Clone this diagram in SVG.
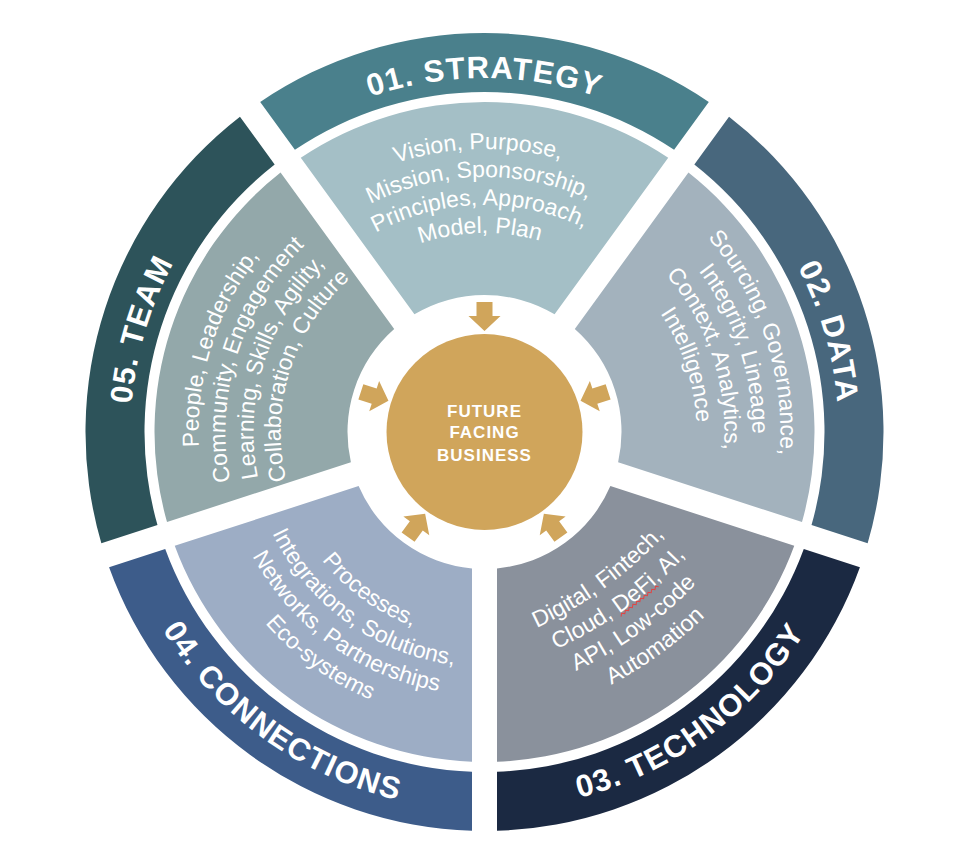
<svg xmlns="http://www.w3.org/2000/svg" xmlns:xlink="http://www.w3.org/1999/xlink" width="960" height="842" viewBox="0 0 960 842">
<style>
.lbl{font-family:"Liberation Sans",Arial,sans-serif;font-weight:bold;font-size:31px;fill:#fff;letter-spacing:1.2px}
.seg{font-family:"Liberation Sans",Arial,sans-serif;font-size:23px;fill:#fff}
.hub{font-family:"Liberation Sans",Arial,sans-serif;font-weight:bold;font-size:17px;fill:#fff;letter-spacing:1px}
.arrow{fill:#d0a55b}
</style>
<defs>
<path id="band" d="M -224.30,-329.99 A 399 399 0 0 1 224.30,-329.99 L 189.60,-282.23 A 340 340 0 0 0 -189.60,-282.23 Z"/>
<path id="inner" d="M -183.72,-274.13 A 330 330 0 0 1 183.72,-274.13 L 70.08,-117.72 A 137 137 0 0 0 -70.08,-117.72 Z"/>
<path id="arrowShape" d="M -8,-130 L 8,-130 L 8,-116 L 16,-116 L 0,-101 L -16,-116 L -8,-116 Z"/>
<path id="cw354" d="M -348.62,-61.47 A 354 354 0 0 1 348.62,-61.47"/>
<path id="ccw378" d="M -372.26,65.64 A 378 378 0 0 0 372.26,65.64"/>
<path id="cw283" d="M -278.70,-49.14 A 283 283 0 0 1 278.70,-49.14"/>
<path id="cw255" d="M -251.13,-44.28 A 255 255 0 0 1 251.13,-44.28"/>
<path id="cw227" d="M -223.55,-39.42 A 227 227 0 0 1 223.55,-39.42"/>
<path id="cw199" d="M -195.98,-34.56 A 199 199 0 0 1 195.98,-34.56"/>
<path id="cw296" d="M -291.50,-51.40 A 296 296 0 0 1 291.50,-51.40"/>
<path id="cw268" d="M -263.93,-46.54 A 268 268 0 0 1 263.93,-46.54"/>
<path id="cw240" d="M -236.35,-41.68 A 240 240 0 0 1 236.35,-41.68"/>
<path id="cw212" d="M -208.78,-36.81 A 212 212 0 0 1 208.78,-36.81"/>
<path id="cw286" d="M -281.66,-49.66 A 286 286 0 0 1 281.66,-49.66"/>
<path id="cw259" d="M -255.07,-44.98 A 259 259 0 0 1 255.07,-44.98"/>
<path id="cw231" d="M -227.49,-40.11 A 231 231 0 0 1 227.49,-40.11"/>
<path id="cw204" d="M -200.90,-35.42 A 204 204 0 0 1 200.90,-35.42"/>
<path id="ccw207" d="M -203.86,35.95 A 207 207 0 0 0 203.86,35.95"/>
<path id="ccw235" d="M -231.43,40.81 A 235 235 0 0 0 231.43,40.81"/>
<path id="ccw263" d="M -259.01,45.67 A 263 263 0 0 0 259.01,45.67"/>
<path id="ccw291" d="M -286.58,50.53 A 291 291 0 0 0 286.58,50.53"/>
<path id="t1" d="M -144,167.81 A 400 400 0 0 0 156,167.81"/>
<path id="t2" d="M -140,196.81 A 400 400 0 0 0 160,196.81"/>
<path id="t3" d="M -142,224.81 A 400 400 0 0 0 158,224.81"/>
<path id="t4" d="M -138,253.81 A 400 400 0 0 0 162,253.81"/>
</defs>
<rect width="960" height="842" fill="#fff"/>
<g transform="translate(484.5,432)">
  <g id="strategy">
    <use href="#band" fill="#4a808c"/>
    <use href="#inner" fill="#a4bfc6"/>
    <text class="lbl" text-anchor="middle"><textPath href="#cw354" startOffset="50%">01. STRATEGY</textPath></text>
    <g transform="rotate(-1.3)">
      <text class="seg" text-anchor="middle"><textPath href="#cw283" startOffset="50%">Vision, Purpose,</textPath></text>
      <text class="seg" text-anchor="middle"><textPath href="#cw255" startOffset="50%">Mission, Sponsorship,</textPath></text>
      <text class="seg" text-anchor="middle"><textPath href="#cw227" startOffset="50%">Principles, Approach,</textPath></text>
      <text class="seg" text-anchor="middle"><textPath href="#cw199" startOffset="50%">Model, Plan</textPath></text>
    </g>
  </g>
  <g id="data">
    <use href="#band" transform="rotate(72)" fill="#48677d"/>
    <use href="#inner" transform="rotate(72)" fill="#a3b2bd"/>
    <text class="lbl" text-anchor="middle" transform="rotate(73.8)"><textPath href="#cw354" startOffset="50%">02. DATA</textPath></text>
    <g transform="rotate(71.7)">
      <text class="seg" text-anchor="middle"><textPath href="#cw296" startOffset="50%">Sourcing, Governance,</textPath></text>
      <text class="seg" text-anchor="middle"><textPath href="#cw268" startOffset="50%">Integrity, Lineage</textPath></text>
      <text class="seg" text-anchor="middle"><textPath href="#cw240" startOffset="50%">Context, Analytics,</textPath></text>
      <text class="seg" text-anchor="middle"><textPath href="#cw212" startOffset="50%">Intelligence</textPath></text>
    </g>
  </g>
  <g id="technology">
    <use href="#band" transform="rotate(144)" fill="#1b2942"/>
    <use href="#inner" transform="rotate(144)" fill="#8a919c"/>
    <text class="lbl" text-anchor="middle" transform="rotate(-36.3)"><textPath href="#ccw378" startOffset="50%">03. TECHNOLOGY</textPath></text>
    <g transform="rotate(-36)">
      <text class="seg" text-anchor="middle"><textPath href="#t1" startOffset="50%">Digital, Fintech,</textPath></text>
      <text class="seg" text-anchor="middle"><textPath href="#t2" startOffset="50%">Cloud, DeFi, AI,</textPath></text>
      <text class="seg" text-anchor="middle"><textPath href="#t3" startOffset="50%">API, Low-code</textPath></text>
      <text class="seg" text-anchor="middle"><textPath href="#t4" startOffset="50%">Automation</textPath></text>
      <polyline points="2,229.6 4.4,227.2 6.8,229.4 9.2,227 11.6,229.2 14,226.8 16.4,229 18.8,226.6 21.2,228.8 23.6,226.4 26,228.6 28.4,226.2 30.8,228.4 33.2,226 35.6,228.2 38,225.8 40.4,228 42.8,225.6 45.2,227.8 47.6,225.4 50,227.6" fill="none" stroke="#e04545" stroke-width="1"/>
    </g>
  </g>
  <g id="connections">
    <use href="#band" transform="rotate(216)" fill="#3d5c8a"/>
    <use href="#inner" transform="rotate(216)" fill="#9dadc5"/>
    <text class="lbl" text-anchor="middle" transform="rotate(35.8)"><textPath href="#ccw378" startOffset="50%">04. CONNECTIONS</textPath></text>
    <g transform="rotate(36)">
      <text class="seg" text-anchor="middle"><textPath href="#ccw207" startOffset="50%">Processes,</textPath></text>
      <text class="seg" text-anchor="middle"><textPath href="#ccw235" startOffset="50%">Integrations, Solutions,</textPath></text>
      <text class="seg" text-anchor="middle"><textPath href="#ccw263" startOffset="50%">Networks, Partnerships</textPath></text>
      <text class="seg" text-anchor="middle"><textPath href="#ccw291" startOffset="50%">Eco-systems</textPath></text>
    </g>
  </g>
  <g id="team">
    <use href="#band" transform="rotate(288)" fill="#2d535a"/>
    <use href="#inner" transform="rotate(288)" fill="#93a8aa"/>
    <text class="lbl" text-anchor="middle" transform="rotate(286.6)"><textPath href="#cw354" startOffset="50%">05. TEAM</textPath></text>
    <g transform="rotate(287.5)">
      <text class="seg" text-anchor="middle"><textPath href="#cw286" startOffset="50%">People, Leadership,</textPath></text>
      <text class="seg" text-anchor="middle"><textPath href="#cw259" startOffset="50%">Community, Engagement</textPath></text>
      <text class="seg" text-anchor="middle"><textPath href="#cw231" startOffset="50%">Learning, Skills, Agility,</textPath></text>
      <text class="seg" text-anchor="middle"><textPath href="#cw204" startOffset="50%">Collaboration, Culture</textPath></text>
    </g>
  </g>
  <g id="connectors">
    <use href="#arrowShape" class="arrow"/>
    <use href="#arrowShape" class="arrow" transform="rotate(72)"/>
    <use href="#arrowShape" class="arrow" transform="rotate(144)"/>
    <use href="#arrowShape" class="arrow" transform="rotate(216)"/>
    <use href="#arrowShape" class="arrow" transform="rotate(288)"/>
  </g>
  <g id="hub">
    <circle r="98" fill="#d0a55b"/>
    <text class="hub" text-anchor="middle" y="-15.3">FUTURE</text>
    <text class="hub" text-anchor="middle" y="6.3">FACING</text>
    <text class="hub" text-anchor="middle" y="28.7">BUSINESS</text>
  </g>
</g>
</svg>
